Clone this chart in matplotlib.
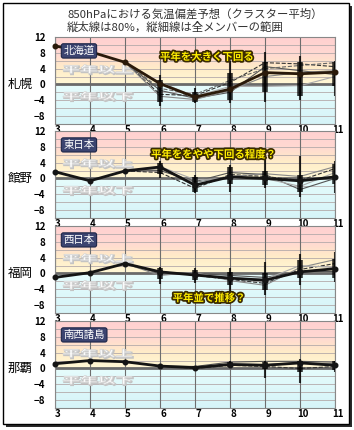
import matplotlib
matplotlib.use('Agg')
import matplotlib.pyplot as plt
import numpy as np
import matplotlib.patheffects as pe
from matplotlib.colors import LinearSegmentedColormap
from matplotlib.patches import Rectangle, PathPatch
from matplotlib.transforms import ScaledTranslation, Affine2D
from matplotlib.textpath import TextPath
from matplotlib.font_manager import FontProperties

plt.rcParams['font.family'] = ['Noto Sans CJK JP', 'DejaVu Sans']

# ---------------- data ----------------
months = [3, 4, 5, 6, 7, 8, 9, 10, 11]
member_months = [5, 6, 7, 8, 9, 10, 11]
bar_months = [6, 7, 8, 9, 10, 11]
stations = ['札幌', '館野', '福岡', '那覇']
regions = ['北海道', '東日本', '西日本', '南西諸島']
comments = ['平年を大きく下回る', '平年ををやや下回る程度？', '平年並で推移？', '']
yticks = [12, 8, 4, 0, -4, -8]
ytick_labels = ['12', '8', '4', '0', '−4', '−8']

sapporo_main = [9.7, 8.3, 5.6, 0.2, -3.2, -1.2, 3.0, 2.7, 3.1]
sapporo_members = [
    [5.6, -1.5, -3.5, -2.0, 4.5, 3.5, 2.5],
    [5.6, -2.5, -2.8, 0.5, 5.5, 5.2, 4.5],
    [5.6, -3.0, -3.8, -1.5, 2.0, 3.0, 3.5],
    [5.6, 0.5, -3.0, -0.5, -0.5, -0.3, 2.0],
    [5.6, -1.0, -2.5, 1.0, 4.0, 4.8, 5.5],
]
sapporo_p80_lo = [-4.5, -4.5, -4.0, -2.0, -2.8, -0.3]
sapporo_p80_hi = [1.0, -2.0, 2.8, 5.6, 5.6, 5.6]
sapporo_all_lo = [-5.5, -4.8, -4.6, -4.5, -4.0, -2.8]
sapporo_all_hi = [2.5, -1.0, 6.0, 8.2, 7.3, 6.0]

tateno_main = [1.7, -0.6, 1.9, 2.9, -1.7, 0.4, 0.0, -0.6, 0.4]
tateno_members = [
    [1.9, 2.0, -0.8, 1.5, 1.0, -2.8, 0.0],
    [1.9, 1.5, -2.5, 1.0, 0.5, -0.5, 2.5],
    [1.9, 2.5, -1.0, 0.5, 1.2, 0.5, 3.0],
    [1.9, 3.0, -0.3, 0.0, 0.0, -2.0, 1.5],
]
tateno_p80_lo = [1.2, -3.4, -1.3, -1.7, -3.4, -1.3]
tateno_p80_hi = [3.9, 0.4, 2.9, 2.0, 0.8, 3.7]
tateno_all_lo = [0.0, -3.8, -3.4, -2.5, -4.6, -3.8]
tateno_all_hi = [4.5, 0.8, 3.3, 5.2, 5.8, 4.3]

fukuoka_main = [-1.0, 0.2, 2.5, 0.4, -0.4, -1.2, -1.7, 0.4, 1.2]
fukuoka_members = [
    [2.5, 0.0, 0.0, -0.5, -1.0, 0.5, 0.5],
    [2.5, 0.5, -0.5, -1.5, -2.5, 1.0, 2.5],
    [2.5, -0.5, 0.3, -1.8, -3.0, 1.5, 3.5],
    [2.5, 0.2, -0.2, -1.0, -1.5, 2.0, 1.5],
]
fukuoka_p80_lo = [-1.5, -1.7, -2.9, -4.2, -1.2, -1.2]
fukuoka_p80_hi = [1.3, 0.8, 0.4, 0.0, 3.3, 3.7]
fukuoka_all_lo = [-2.7, -2.5, -4.6, -5.4, -2.9, -2.1]
fukuoka_all_hi = [1.6, 1.3, 1.3, 2.9, 5.0, 5.4]

naha_main = [1.2, 2.0, 1.7, 0.6, 0.2, 1.0, 0.8, 1.4, 0.8]
naha_members = [
    [1.7, 0.6, 0.5, 1.6, 1.8, 1.8, 1.6],
    [1.7, 0.6, 0.0, 0.8, 0.5, 0.0, 0.5],
    [1.7, 0.6, 0.3, 1.2, 1.0, 1.5, 1.2],
]
naha_p80_lo = [0.3, -0.1, 0.4, -0.1, -0.8, -0.5]
naha_p80_hi = [0.9, 0.5, 1.6, 1.6, 2.0, 1.8]
naha_all_lo = [0.2, -0.2, 0.2, -2.5, -3.6, -0.8]
naha_all_hi = [1.0, 0.6, 1.8, 1.8, 2.3, 2.0]

panels = [
    (sapporo_main, sapporo_members, sapporo_p80_lo, sapporo_p80_hi, sapporo_all_lo, sapporo_all_hi),
    (tateno_main, tateno_members, tateno_p80_lo, tateno_p80_hi, tateno_all_lo, tateno_all_hi),
    (fukuoka_main, fukuoka_members, fukuoka_p80_lo, fukuoka_p80_hi, fukuoka_all_lo, fukuoka_all_hi),
    (naha_main, naha_members, naha_p80_lo, naha_p80_hi, naha_all_lo, naha_all_hi),
]

# ---------------- style ----------------
W, H = 354, 430
fig = plt.figure(figsize=(W / 100, H / 100), dpi=100)

# frame with shadow
fig.patches.append(Rectangle((6 / W, 1 - 427 / H), 346 / W, 421 / H, transform=fig.transFigure,
                             facecolor='#2a2a2a', edgecolor='none', zorder=-10))
fig.patches.append(Rectangle((3 / W, 1 - 424 / H), 346 / W, 421 / H, transform=fig.transFigure,
                             facecolor='white', edgecolor='black', lw=1.0, zorder=-9))

fig.text(67 / W, 1 - 14 / H, '850hPaにおける気温偏差予想（クラスター平均）',
         fontsize=8.2, color='#333333', va='center', ha='left')
fig.text(67 / W, 1 - 27 / H, '縦太線は80%，縦細線は全メンバーの範囲',
         fontsize=8.2, color='#333333', va='center', ha='left')

ymin, ymax = -10, 12
stops = [(0.0, '#d6f4f8'), (10 / 22 - 1e-4, '#e6fcfc'), (10 / 22, '#fff8d6'),
         (14 / 22, '#ffedc8'), (16 / 22, '#ffe2cc'), (18 / 22, '#ffd8d2'), (1.0, '#ffd0d0')]
cmap = LinearSegmentedColormap.from_list('bg', stops)
grad = np.linspace(0, 1, 440).reshape(-1, 1)

wm_prop = FontProperties(family='Noto Sans CJK JP', weight='bold')


def watermark(ax, s, x0, x1, y0, y1):
    tp = TextPath((0, 0), s, size=1, prop=wm_prop)
    ext = tp.get_extents()
    tr = (Affine2D().translate(-ext.x0, -ext.y0)
          .scale((x1 - x0) / ext.width, (y1 - y0) / ext.height)
          .translate(x0, y0))
    path = tr.transform_path(tp)
    shadow = PathPatch(path, facecolor='#c4c4c4', edgecolor='#c4c4c4', lw=1.2, zorder=2,
                       transform=ax.transData + ScaledTranslation(1 / 100, -1 / 100, fig.dpi_scale_trans))
    ax.add_patch(shadow)
    ax.add_patch(PathPatch(path, facecolor='#fbfbfb', edgecolor='#d4d4d4', lw=0.5, zorder=2,
                           transform=ax.transData))


tops = [37, 131, 226, 321]
hpx = 87
comment_pos = [(0.375, 0.77), (0.343, 0.73), (0.42, 0.17), (0.4, 0.5)]
member_styles = [('#555555', '-', 0.8), ('#333333', '--', 0.8), ('#888888', '-', 0.8),
                 ('#aaaaaa', '-', 0.8), ('#666666', '--', 0.8)]

for i, (main, members, p_lo, p_hi, a_lo, a_hi) in enumerate(panels):
    top = tops[i]
    ax = fig.add_axes([55 / W, 1 - (top + hpx) / H, 280 / W, hpx / H])
    ax.imshow(grad, extent=[months[0], months[-1], ymin, ymax], aspect='auto',
              cmap=cmap, origin='lower', zorder=0, interpolation='bilinear')
    for y in range(ymin, ymax + 1, 2):
        ax.axhline(y, color='#b4aaaa', lw=0.6, zorder=1)
    for m in months:
        ax.axvline(m, color='#6e6e6e', lw=0.8, zorder=1)
    ax.axhline(0, color='#6a6a6a', lw=2.0, zorder=2)

    watermark(ax, '平年以上', 3.23, 5.2, 2.8, 5.0)
    watermark(ax, '平年以下', 3.23, 5.2, -4.0, -1.8)

    for j, mem in enumerate(members):
        c, ls, lw = member_styles[j % len(member_styles)]
        ax.plot(member_months, mem, color=c, ls=ls, lw=lw, zorder=3)

    ax.vlines(bar_months, a_lo, a_hi, color='black', alpha=0.8, lw=1.5, zorder=4)
    ax.vlines(bar_months, p_lo, p_hi, color='black', alpha=0.8, lw=4.0, zorder=4)

    main_color = '#2a1a0a' if i == 0 else '#141414'
    ax.plot(months, main, color=main_color, lw=2.0, marker='o', ms=3.3, zorder=5, clip_on=False)

    ax.text(0.03, 0.84, regions[i], transform=ax.transAxes, fontsize=7.5, color='white',
            va='center', ha='left', zorder=6,
            bbox=dict(boxstyle='round,pad=0.2', fc='#3c4470', ec='#1e2648', lw=0.8))
    if comments[i]:
        cx, cy = comment_pos[i]
        ax.text(cx, cy, comments[i], transform=ax.transAxes, fontsize=7.5, color='#ffee00',
                fontweight='bold', va='center', ha='left', zorder=7,
                path_effects=[pe.withStroke(linewidth=2.5, foreground='#3a2a00')])

    ax.set_xlim(months[0], months[-1])
    ax.set_ylim(ymin, ymax)
    ax.set_xticks(months)
    ax.set_xticklabels([str(m) for m in months], fontsize=7, fontweight='bold')
    ax.set_yticks(yticks)
    ax.set_yticklabels(ytick_labels, fontsize=7, fontweight='bold')
    ax.tick_params(length=0, pad=1)
    ax.tick_params(axis='y', pad=7)
    for lab in ax.get_xticklabels():
        lab.set_transform(lab.get_transform() + ScaledTranslation(3 / 100, 0, fig.dpi_scale_trans))
    for s in ax.spines.values():
        s.set_color('#888888')
        s.set_linewidth(0.8)

    ypx = top + hpx * ymax / (ymax - ymin)
    fig.text(20 / W, 1 - ypx / H, stations[i], fontsize=9, ha='center', va='center')

fig.savefig('out.png', dpi=100)
